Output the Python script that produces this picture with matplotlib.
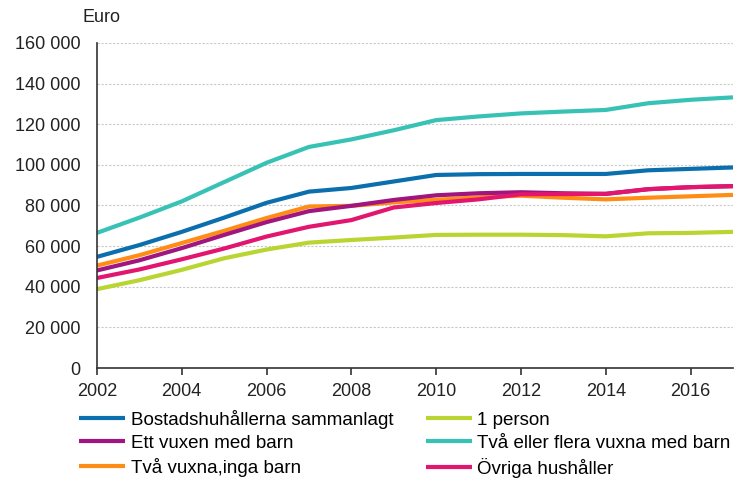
import matplotlib.pyplot as plt
from matplotlib.ticker import FuncFormatter

plt.rcParams['font.family'] = ['Liberation Sans', 'DejaVu Sans']

years = list(range(2002, 2018))

# household income, euro
total = [54700, 60500, 67000, 74000, 81300, 86800, 88600, 91800, 95000, 95400,
         95500, 95500, 95500, 97300, 98000, 98700]
one_person = [38800, 43200, 48300, 54000, 58300, 61700, 63000, 64200, 65500, 65600,
              65600, 65400, 64800, 66300, 66500, 67000]
single_parent = [48000, 53000, 59000, 65500, 71800, 77200, 79800, 82700, 85000, 86000,
                 86500, 86000, 85700, 88000, 89000, 89500]
couple_kids = [66500, 74000, 82000, 91500, 101000, 108800, 112500, 117000, 122000, 123800,
               125300, 126200, 127000, 130300, 132000, 133200]
couple_no_kids = [50400, 55500, 61500, 67500, 73800, 79500, 79800, 81500, 82800, 84000,
                  84800, 83800, 83000, 83800, 84500, 85200]
other = [44300, 48500, 53500, 58800, 64700, 69500, 72800, 79000, 81200, 83000,
         85500, 85600, 85700, 88000, 89000, 89500]

labels = ['Bostadshuhållerna sammanlagt', 'Ett vuxen med barn', 'Två vuxna,inga barn',
          '1 person', 'Två eller flera vuxna med barn', 'Övriga hushåller']
series = [total, single_parent, couple_no_kids, one_person, couple_kids, other]
colors = ['#0b6fae', '#a0157f', '#ff8c14', '#b9d531', '#38c2b5', '#e2166f']
# drawing order (back to front)
draw_order = [4, 0, 3, 2, 1, 5]

fig = plt.figure(figsize=(7.4, 4.82), dpi=100)
ax = fig.add_axes([0.131, 0.2365, 0.8595, 0.6745])

lines = {}
for i in draw_order:
    ln, = ax.plot(years, series[i], color=colors[i], linewidth=3, label=labels[i],
                  solid_capstyle='butt')
    lines[i] = ln

ax.set_xlim(2002, 2017)
ax.set_ylim(0, 160000)
ax.set_xticks(range(2002, 2017, 2))
ax.set_yticks(range(0, 160001, 20000))
ax.yaxis.set_major_formatter(FuncFormatter(lambda v, p: f'{int(v):,}'.replace(',', ' ')))

ax.grid(axis='y', color='#c8c8c8', linestyle=(0, (2, 1.5)), linewidth=0.8)
ax.set_axisbelow(True)
for s in ['top', 'right']:
    ax.spines[s].set_visible(False)
ax.spines['left'].set_color('#333333')
ax.spines['bottom'].set_color('#333333')
ax.spines['left'].set_linewidth(1.2)
ax.spines['bottom'].set_linewidth(1.2)
ax.tick_params(axis='y', length=0, labelsize=13, pad=12, colors='#222222')
ax.tick_params(axis='x', length=5, width=1.2, direction='out', labelsize=13, pad=6,
               colors='#333333', labelcolor='#222222')

fig.text(0.112, 0.963, 'Euro', fontsize=13, color='#222222', va='center')

ax.legend([lines[i] for i in range(6)], labels, ncol=2, loc='upper left',
          bbox_to_anchor=(-0.043, -0.10), frameon=False, fontsize=13.5,
          handlelength=2.45, handletextpad=0.3, columnspacing=1.75, labelspacing=0.31,
          borderpad=0)

fig.savefig('out.png', dpi=100)
